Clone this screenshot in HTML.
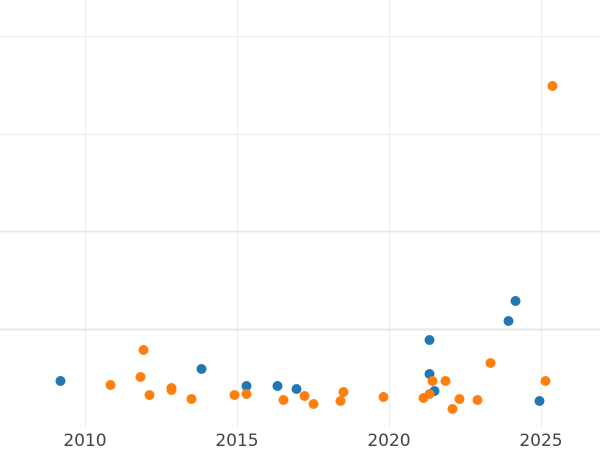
<!DOCTYPE html><html><head><style>body{margin:0;background:#fff}</style></head><body>
<svg width="600" height="450" xmlns="http://www.w3.org/2000/svg" style="display:block">
<g stroke="#ececec" stroke-width="1">
<line x1="85.5" y1="0" x2="85.5" y2="427"/><line x1="237.5" y1="0" x2="237.5" y2="427"/><line x1="389.5" y1="0" x2="389.5" y2="427"/><line x1="541.5" y1="0" x2="541.5" y2="427"/>
<line x1="0" y1="36.5" x2="600" y2="36.5"/><line x1="0" y1="134.5" x2="600" y2="134.5"/>
</g>
<line x1="0" y1="231.5" x2="600" y2="231.5" stroke="#e6e6e6" stroke-width="1.5"/>
<line x1="0" y1="329.5" x2="600" y2="329.5" stroke="#e6e6e6" stroke-width="2"/>
<g font-family="DejaVu Sans, Liberation Sans, sans-serif" font-size="17" fill="#444" text-anchor="middle">
<text x="85" y="446">2010</text><text x="237" y="446">2015</text><text x="389" y="446">2020</text><text x="541" y="446">2025</text>
</g>
<g transform="translate(0.5,1)">
<g fill="#1f77b4">
<circle cx="60" cy="380" r="5"/><circle cx="201" cy="368" r="5"/><circle cx="246" cy="385" r="5"/><circle cx="277" cy="385" r="5"/><circle cx="296" cy="388" r="5"/><circle cx="429" cy="339" r="5"/><circle cx="429" cy="373" r="5"/><circle cx="434" cy="390" r="5"/><circle cx="508" cy="320" r="5"/><circle cx="515" cy="300" r="5"/><circle cx="539" cy="400" r="5"/>
</g>
<g fill="#ff7f0e">
<circle cx="110" cy="384" r="5"/><circle cx="143" cy="349" r="5"/><circle cx="140" cy="376" r="5"/><circle cx="149" cy="394" r="5"/><circle cx="171" cy="387" r="5"/><circle cx="171" cy="389" r="5"/><circle cx="191" cy="398" r="5"/><circle cx="234" cy="394" r="5"/><circle cx="246" cy="393" r="5"/><circle cx="283" cy="399" r="5"/><circle cx="304" cy="395" r="5"/><circle cx="313" cy="403" r="5"/><circle cx="340" cy="400" r="5"/><circle cx="343" cy="391" r="5"/><circle cx="383" cy="396" r="5"/><circle cx="423" cy="397" r="5"/><circle cx="429" cy="393" r="5"/><circle cx="432" cy="380" r="5"/><circle cx="445" cy="380" r="5"/><circle cx="452" cy="408" r="5"/><circle cx="459" cy="398" r="5"/><circle cx="477" cy="399" r="5"/><circle cx="490" cy="362" r="5"/><circle cx="545" cy="380" r="5"/><circle cx="552" cy="85" r="5"/>
</g>
</g>
</svg>
</body></html>
